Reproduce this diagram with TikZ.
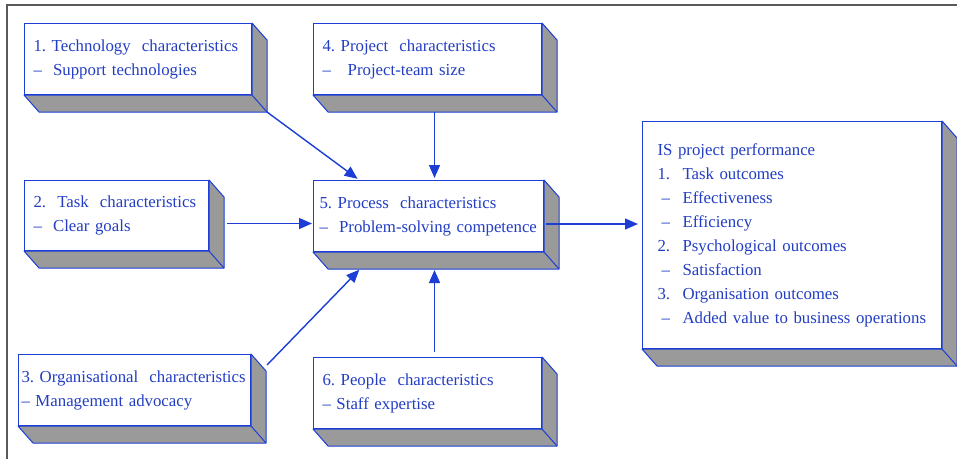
\documentclass[tikz,border=0pt]{standalone}
\usepackage{fontspec}
\setmainfont{Liberation Serif}
\usetikzlibrary{arrows.meta,calc}

\definecolor{edgeblue}{RGB}{28,62,214}
\definecolor{inkblue}{RGB}{35,62,196}
\definecolor{sidegray}{RGB}{154,154,154}

% tab stops inside the outcome list
\newcommand{\numitem}[1]{\makebox[25pt][l]{#1}}
\newcommand{\dashitem}{\hspace*{4pt}\makebox[21pt][l]{--}}

\tikzset{
  slab/.style={draw=edgeblue, line width=1pt, fill=white, anchor=north west, align=left,
    inner xsep=9pt, inner ysep=0pt, text=inkblue, font=\fontsize{16.8}{24}\selectfont},
  slabside/.style={draw=edgeblue, line width=1pt, fill=sidegray, line join=round},
  flow/.style={draw=edgeblue, line width=1.4pt, -{Triangle[length=13pt,width=11pt]}},
}

\begin{document}
\begin{tikzpicture}[x=1pt, y=-1pt]
\useasboundingbox (0,0) rectangle (957,459);
\draw[line width=1.6pt, black!65] (7,459) -- (7,5) -- (957,5);

% front faces
\node[slab, text width=209pt, minimum height=71pt] (tech) at (24,23)
  {1.\ Technology\ \ characteristics\\--\ \ Support technologies};
\node[slab, text width=210pt, minimum height=71pt] (proj) at (313,23)
  {4.\ Project\ \ characteristics\\--\ \ \ Project-team size};
\node[slab, text width=166pt, minimum height=70pt] (task) at (24,180)
  {2.\ \ Task\ \ characteristics\\--\ \ Clear goals};
\node[slab, text width=218pt, minimum height=71pt, inner xsep=6pt] (proc) at (313,180)
  {5.\ Process\ \ characteristics\\--\ \ Problem-solving competence};
\node[slab, text width=226pt, minimum height=71pt, inner xsep=3pt] (org) at (18,354)
  {3.\ Organisational\ \ characteristics\\--\ Management advocacy};
\node[slab, text width=269pt, minimum height=227pt, inner xsep=15pt] (perf) at (642,121)
  {IS project performance\\
   \numitem{1.}Task outcomes\\
   \dashitem Effectiveness\\
   \dashitem Efficiency\\
   \numitem{2.}Psychological outcomes\\
   \dashitem Satisfaction\\
   \numitem{3.}Organisation outcomes\\
   \dashitem Added value to business operations};
\node[slab, text width=210pt, minimum height=71pt] (ppl) at (313,357)
  {6.\ People\ \ characteristics\\--\ Staff expertise};

% side and bottom faces
\foreach \n in {tech,proj,task,proc,org,ppl,perf}{
  \filldraw[slabside] (\n.north east) -- ++(15,17) -- ($(\n.south east)+(15,17)$)
    -- ($(\n.south west)+(15,17)$) -- (\n.south west) -- (\n.south east) -- cycle;
  \draw[slabside] (\n.south east) -- ++(15,17);
  \coordinate (\n-se) at ($(\n.south east)+(15,17)$);
}

% links into the process box
\coordinate (proj-out) at ($(proj.south)+(7,17)$);
\coordinate (task-out) at ($(task.east)+(18,8)$);
\coordinate (proc-out) at ($(proc.east)+(2,8)$);
\coordinate (org-out) at ($(org.north east)+(16,11)$);
\coordinate (ppl-out) at ($(ppl.north)+(7,-5)$);

\draw[flow, shorten >=2pt] (tech-se) -- ($(proc.north west)!0.2!(proc.north east)$);
\draw[flow, shorten >=2pt] (proj-out) -- (proj-out |- proc.north);
\draw[flow, shorten >=1pt] (task-out) -- (task-out -| proc.west);
\draw[flow, shorten >=1pt] (org-out) -- ($(proc.south west)+(47,17)$);
\draw[flow, shorten >=1pt] (ppl-out) -- (ppl-out |- proc-se);
\draw[flow, shorten >=4pt] (proc-out) -- (proc-out -| perf.west);
\end{tikzpicture}
\end{document}
